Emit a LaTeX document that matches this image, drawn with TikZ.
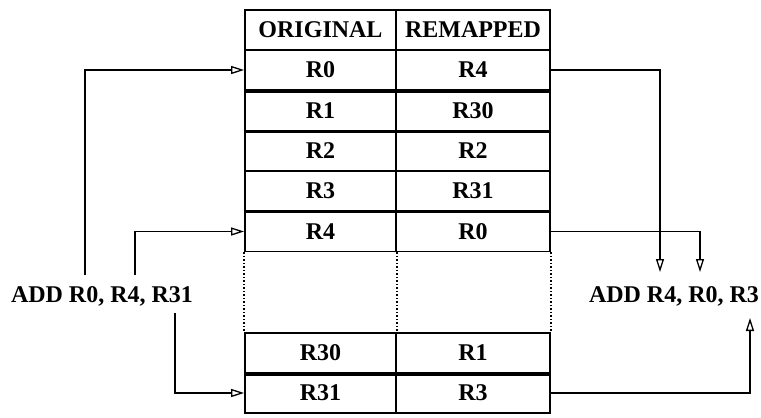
\documentclass[tikz,border=0pt]{standalone}
\usepackage{fontspec}
\setmainfont{Liberation Serif}
\usetikzlibrary{arrows.meta}
\begin{document}
\begin{tikzpicture}[x=1pt,y=-1pt,
  txt/.style={font=\fontsize{24}{26}\selectfont\bfseries},
  lcell/.style={txt,draw,line width=1.8pt,minimum width=151pt,minimum height=40pt,inner sep=0pt,anchor=center},
  rcell/.style={txt,draw,line width=1.8pt,minimum width=154pt,minimum height=40pt,inner sep=0pt,anchor=center},
  conn/.style={line width=1.5pt,-{Triangle[open,length=13pt,width=8pt,line width=1.3pt]}},
  wire/.style={line width=1.5pt}]
\useasboundingbox (0,0) rectangle (761,418);
% header
\node[lcell] (oh) at (320.5,30) {ORIGINAL};
\node[rcell] (rh) at (473,30) {REMAPPED};
\node[lcell] (o0) at (320.5,70) {R0};
\node[rcell] (r0) at (473,70) {R4};
\node[lcell] (o1) at (320.5,110.5) {R1};
\node[rcell] (r1) at (473,110.5) {R30};
\node[lcell] (o2) at (320.5,151) {R2};
\node[rcell] (r2) at (473,151) {R2};
\node[lcell] (o3) at (320.5,191) {R3};
\node[rcell] (r3) at (473,191) {R31};
\node[lcell] (o4) at (320.5,231.5) {R4};
\node[rcell] (r4) at (473,231.5) {R0};
\node[lcell] (o30) at (320.5,353) {R30};
\node[rcell] (r30) at (473,353) {R1};
\node[lcell] (o31) at (320.5,393) {R31};
\node[rcell] (r31) at (473,393) {R3};
% thicker separators
\draw[line width=3.2pt] (o0.south west) -- (r0.south east);
\draw[line width=3.2pt] (o1.south west) -- (r1.south east);
\draw[line width=2.8pt] (o3.south west) -- (r3.south east);
\draw[line width=3.2pt] (o30.south west) -- (r30.south east);
% dotted gap
\draw[dotted,line width=1.5pt] (o4.south west) -- (o30.north west);
\draw[dotted,line width=1.5pt] (o4.south east) -- (o30.north east);
\draw[dotted,line width=1.5pt] (r4.south east) -- (r30.north east);
% labels
\node[txt] (lab) at (102,296) {ADD R0, R4, R31};
\node[txt] (rab) at (674,296) {ADD R4, R0, R3};
% left connectors
\coordinate (a1) at (85,275);
\coordinate (a2) at (135,275);
\coordinate (a3) at (175,313);
\draw[conn] (a1) |- (o0.west);
\draw[conn] (a2) |- (o4.west);
\draw[conn] (a3) |- (o31.west);
% right connectors
\coordinate (b1) at (660,272);
\coordinate (b2) at (700,272);
\coordinate (b3) at (750,318);
\draw[conn] (r0.east) -| (b1);
\draw[conn] (r4.east) -| (b2);
\draw[conn] (r31.east) -| (b3);
\end{tikzpicture}
\end{document}
